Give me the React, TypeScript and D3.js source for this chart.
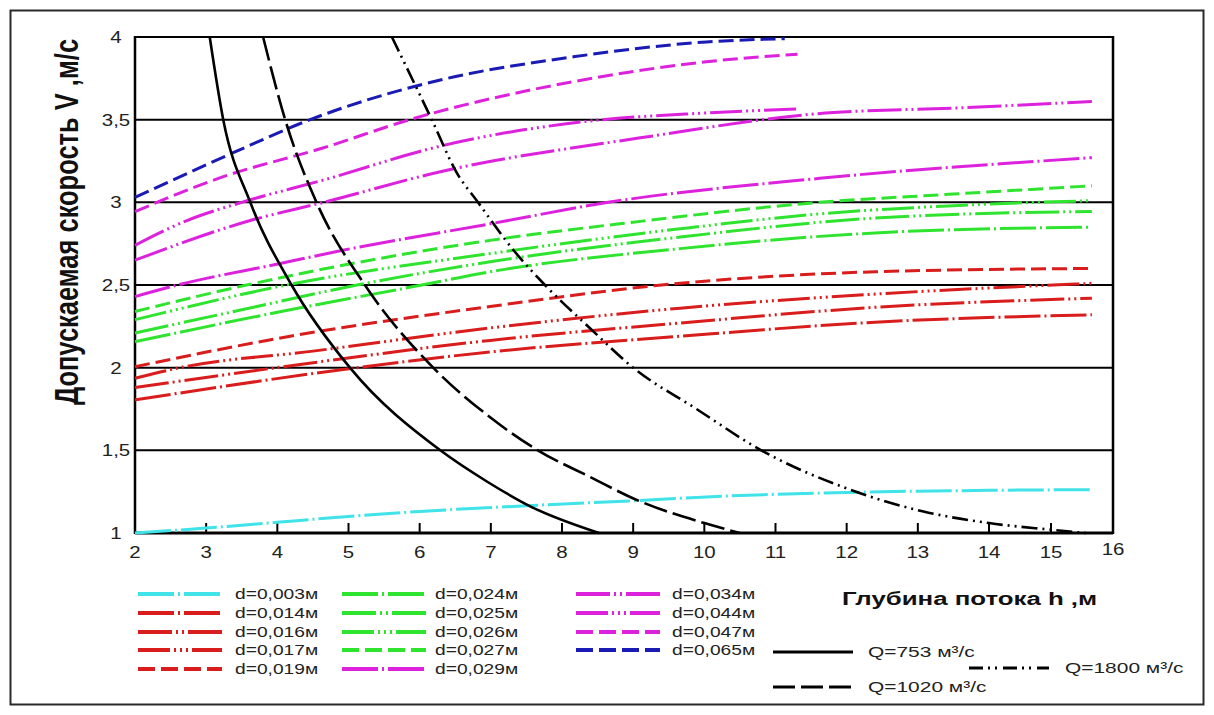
import React from "react";
import * as d3 from "d3";

type Pt = [number, number];

// ---- axis ticks ----
const hTickValues = [2, 3, 4, 5, 6, 7, 8, 9, 10, 11, 12, 13, 14, 15, 16];
const hTickLabels = ["2", "3", "4", "5", "6", "7", "8", "9", "10", "11", "12", "13", "14", "15", "16"];
const vTickValues = [1, 1.5, 2, 2.5, 3, 3.5, 4];
const vTickLabels = ["1", "1,5", "2", "2,5", "3", "3,5", "4"];

// ---- permissible velocity curves, [h, V] ----
const d003: Pt[] = [[2, 1.0], [3, 1.03], [4, 1.065], [5, 1.1], [6, 1.13], [7.5, 1.165], [9, 1.195], [10.1, 1.22], [12, 1.245], [14, 1.258], [15.66, 1.262]];
const d014: Pt[] = [[2, 1.805], [5.12, 2.0], [6.99, 2.095], [9.66, 2.19], [12.4, 2.275], [15.66, 2.32]];
const d016: Pt[] = [[2, 1.88], [3.99, 2.0], [6.99, 2.165], [9.66, 2.27], [12.4, 2.365], [15.66, 2.42]];
const d017: Pt[] = [[2, 1.936], [2.63, 2.0], [4.5, 2.1], [6.99, 2.24], [9.66, 2.36], [12.4, 2.445], [15.66, 2.51]];
const d019: Pt[] = [[2, 2.006], [4.18, 2.19], [6.99, 2.37], [9.4, 2.5], [12.4, 2.58], [15.66, 2.6]];
const d024: Pt[] = [[2, 2.157], [4, 2.335], [6.03, 2.5], [6.99, 2.58], [9.66, 2.72], [12.4, 2.815], [15.66, 2.85]];
const d025: Pt[] = [[2, 2.21], [3.5, 2.35], [5.12, 2.5], [6.99, 2.64], [9.66, 2.79], [12.4, 2.905], [15.66, 2.945]];
const d026: Pt[] = [[2, 2.29], [4.13, 2.5], [6.99, 2.69], [9.66, 2.84], [11.62, 2.93], [13.5, 2.98], [15.66, 3.01]];
const d027: Pt[] = [[2, 2.34], [3.57, 2.5], [6.99, 2.77], [9.0, 2.88], [11.62, 3.0], [13.5, 3.05], [15.66, 3.1]];
const d029: Pt[] = [[2, 2.43], [2.6, 2.5], [4.04, 2.63], [4.92, 2.71], [6.99, 2.87], [8.65, 3.0], [11.62, 3.145], [15.66, 3.27]];
const d034: Pt[] = [[2, 2.65], [3.62, 2.89], [4.65, 3.0], [6.29, 3.185], [9.1, 3.39], [11.7, 3.54], [13.5, 3.57], [15.66, 3.61]];
const d044: Pt[] = [[2, 2.74], [2.73, 2.89], [3.5, 3.0], [4.65, 3.135], [6.29, 3.34], [8.35, 3.49], [10.0, 3.54], [11.34, 3.565]];
const d047: Pt[] = [[2, 2.944], [3.24, 3.155], [4.65, 3.33], [5.86, 3.5], [8.16, 3.73], [10.03, 3.85], [11.31, 3.896]];
const d065: Pt[] = [[2, 3.03], [3.38, 3.3], [4.46, 3.5], [6.29, 3.74], [8.16, 3.88], [10.03, 3.97], [11.13, 3.99]];

// ---- discharge curves, [h, V] ----
const q753: Pt[] = [[3.05, 4.0], [3.24, 3.5], [3.62, 3.0], [4.2, 2.5], [5.02, 2.0], [6.29, 1.5], [6.95, 1.31], [7.56, 1.16], [8.52, 1.0]];
const q1020: Pt[] = [[3.8, 4.0], [4.11, 3.5], [4.55, 3.0], [5.23, 2.5], [6.19, 2.0], [6.99, 1.7], [7.66, 1.5], [8.39, 1.34], [9.05, 1.2], [10.0, 1.06], [10.5, 1.0]];
const q1800: Pt[] = [[5.61, 4.0], [6.17, 3.5], [6.52, 3.18], [6.82, 3.0], [7.32, 2.71], [7.76, 2.5], [8.39, 2.24], [9.0, 2.0], [9.89, 1.75], [10.8, 1.5], [12.0, 1.27], [13.08, 1.13], [14.0, 1.06], [15.0, 1.02], [15.56, 1.0]];

const dLabels = ["d=0,003м", "d=0,014м", "d=0,016м", "d=0,017м", "d=0,019м", "d=0,024м", "d=0,025м", "d=0,026м", "d=0,027м", "d=0,029м", "d=0,034м", "d=0,044м", "d=0,047м", "d=0,065м"];
const qLabels = ["Q=753 м³/с", "Q=1020 м³/с", "Q=1800 м³/с"];

// ---- styles ----
const CYAN = "#3fe3e8";
const RED = "#d91c1c";
const GREEN = "#2fe42f";
const MAG = "#dd22dd";
const BLUE = "#1a1ab4";
const DASH = "15,6";
const DD1 = "36,4,2,4";
const DD2 = "34,4,2,4,2,4";
const DD3 = "32,4,2,4,2,4,2,4";

const dData = [d003, d014, d016, d017, d019, d024, d025, d026, d027, d029, d034, d044, d047, d065];
const dColors = [CYAN, RED, RED, RED, RED, GREEN, GREEN, GREEN, GREEN, MAG, MAG, MAG, MAG, BLUE];
const dDashes = [DD1, DD1, DD2, DD3, DASH, DD1, DD2, DD3, DASH, DD1, DD2, DD3, DASH, DASH];
const qData = [q753, q1020, q1800];
const qDashes = ["none", "24,6", "16,5,2,5,2,5"];

const FONT = "'Liberation Sans', Arial, Helvetica, sans-serif";
const SX = 1.28;

export default function App() {
  const x = d3.scaleLinear().domain([2, 14, 16]).range([135, 989, 1113]);
  const y = d3.scaleLinear().domain([1, 4]).range([533, 37]);
  const line = d3
    .line<Pt>()
    .x((d) => x(d[0]))
    .y((d) => y(d[1]))
    .curve(d3.curveMonotoneX);

  const legendCols = [
    { lx: 138, tx: 235, items: [0, 1, 2, 3, 4] },
    { lx: 342, tx: 435, items: [5, 6, 7, 8, 9] },
    { lx: 576, tx: 672, items: [10, 11, 12, 13] },
  ];
  const rowY = [594, 613, 632, 650, 669];

  const qLegend = [
    { lx: 773, ly: 652, tx: 868 },
    { lx: 773, ly: 687, tx: 868 },
    { lx: 969, ly: 668, tx: 1065 },
  ];

  return (
    <div style={{ position: "absolute", left: 0, top: 0, width: 1214, height: 715, background: "#fff" }}>
      <svg width={1214} height={715} style={{ display: "block" }} fontFamily={FONT}>
        <rect x={0} y={0} width={1214} height={715} fill="#fff" />
        <rect x={10.5} y={10.5} width={1193} height={694} fill="none" stroke="#2a2a2a" strokeWidth={2} />

        {/* horizontal grid */}
        {vTickValues.map((v) => (
          <line key={"g" + v} x1={x(2)} x2={x(16)} y1={y(v)} y2={y(v)} stroke="#000" strokeWidth={v === 1 ? 3 : 2} />
        ))}
        <line x1={x(2)} x2={x(2)} y1={y(1) + 1} y2={y(4) - 1} stroke="#000" strokeWidth={2.5} />
        <line x1={x(16)} x2={x(16)} y1={y(1) + 1} y2={y(4) - 1} stroke="#000" strokeWidth={2.5} />

        {/* x ticks */}
        {hTickValues.slice(1, -1).map((h) => (
          <line key={"t" + h} x1={x(h)} x2={x(h)} y1={y(1)} y2={y(1) - 10} stroke="#000" strokeWidth={2} />
        ))}

        {/* tick labels */}
        {vTickValues.map((v, i) => (
          <text key={"yl" + v} transform={`translate(116,${y(v) + 6}) scale(${SX},1)`} textAnchor="middle" fontSize={16} fill="#222">
            {vTickLabels[i]}
          </text>
        ))}
        {hTickValues.map((h, i) => (
          <text key={"xl" + h} transform={`translate(${x(h)},${h === 16 ? 555 : 558}) scale(${SX},1)`} textAnchor="middle" fontSize={16} fill="#222">
            {hTickLabels[i]}
          </text>
        ))}

        {/* axis titles */}
        <text transform={`translate(66,222) scale(${SX},1) rotate(-90)`} textAnchor="middle" dominantBaseline="central" fontSize={25.5} fontWeight="bold" fill="#111">
          Допускаемая скорость  V ,м/с
        </text>
        <text transform={`translate(842,605) scale(1.36,1)`} textAnchor="start" fontSize={19} fontWeight="bold" fill="#111">
          Глубина потока  h ,м
        </text>

        {/* d-curves */}
        {dData.map((data, i) => (
          <path key={"d" + i} d={line(data) || ""} fill="none" stroke={dColors[i]} strokeWidth={3} strokeDasharray={dDashes[i]} />
        ))}

        {/* Q-curves */}
        {qData.map((data, i) => (
          <path key={"q" + i} d={line(data) || ""} fill="none" stroke="#000" strokeWidth={2.6} strokeDasharray={qDashes[i]} />
        ))}

        {/* legend: d */}
        {legendCols.map((col, ci) =>
          col.items.map((idx, r) => (
            <g key={"lg" + ci + "-" + r}>
              <line x1={col.lx} x2={col.lx + 84} y1={rowY[r]} y2={rowY[r]} stroke={dColors[idx]} strokeWidth={4} strokeDasharray={dDashes[idx] === DASH ? "17,6" : dDashes[idx]} />
              <text transform={`translate(${col.tx},${rowY[r] + 5}) scale(${SX},1)`} fontSize={15} fill="#222">
                {dLabels[idx]}
              </text>
            </g>
          ))
        )}

        {/* legend: Q */}
        {qLegend.map((q, i) => (
          <g key={"ql" + i}>
            <line x1={q.lx} x2={q.lx + 80} y1={q.ly} y2={q.ly} stroke="#000" strokeWidth={3} strokeDasharray={i === 1 ? "22,6" : i === 2 ? "14,5,2,5,2,6" : "none"} />
            <text transform={`translate(${q.tx},${q.ly + 5}) scale(1.35,1)`} fontSize={15.5} fill="#222">
              {qLabels[i]}
            </text>
          </g>
        ))}
      </svg>
    </div>
  );
}
